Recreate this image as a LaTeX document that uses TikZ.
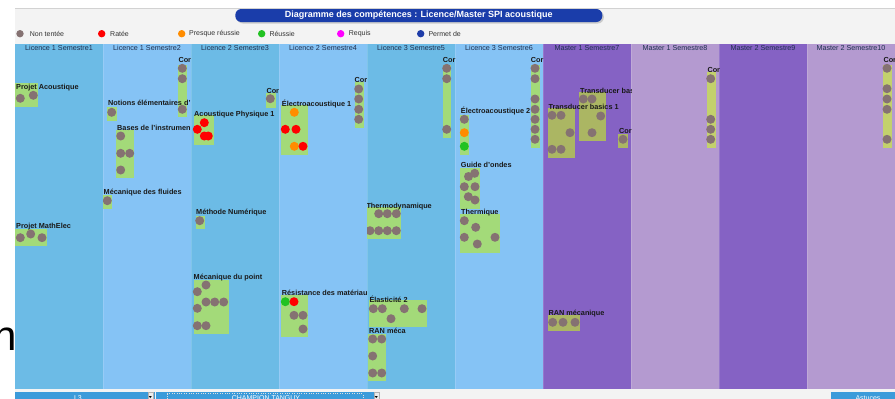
\documentclass[tikz,border=0pt]{standalone}
\usepackage{fontspec}
\setmainfont{Liberation Sans}
\usetikzlibrary{shadows}
\definecolor{lodd}{HTML}{6CBBE6}
\definecolor{leven}{HTML}{85C3F5}
\definecolor{modd}{HTML}{8562C4}
\definecolor{meven}{HTML}{B49AD0}
\definecolor{bgray}{HTML}{F3F3F3}
\definecolor{boxg}{HTML}{A3DA79}
\definecolor{boxgm}{HTML}{ABB663}
\definecolor{boxgl}{HTML}{C3D16C}
\definecolor{dotgray}{HTML}{857272}
\definecolor{dred}{HTML}{FF0000}
\definecolor{dorange}{HTML}{FF8C00}
\definecolor{dgreen}{HTML}{22C222}
\definecolor{dmag}{HTML}{FF00FF}
\definecolor{dblue}{HTML}{1E3CA8}
\definecolor{titleblue}{HTML}{1A3DAA}
\definecolor{hdrtext}{HTML}{1F3050}
\definecolor{barblue}{HTML}{3C9BDA}
\tikzset{
  colbox/.style={fill=#1, draw=none, inner sep=0, anchor=north west, minimum width=88, minimum height=345},
  hdr/.style={font=\fontsize{7.2}{8}\selectfont, text=hdrtext, inner sep=0},
  skill/.style={fill=#1, draw=none, inner sep=0, anchor=north west},
  lbltxt/.style={font=\bfseries\fontsize{7.3}{8}\selectfont, text=black!90, inner sep=0, anchor=base west},
  dot/.style={circle, fill=#1, draw=none, minimum size=9, inner sep=0},
  ldot/.style={circle, fill=#1, draw=none, minimum size=7.4, inner sep=0},
  legtext/.style={font=\fontsize{7}{8}\selectfont, text=black!80, inner sep=0, anchor=west},
  barbox/.style={fill=barblue, draw=none, inner sep=0, anchor=north west, minimum height=10},
  arrowsq/.style={fill=gray!15, draw=gray!60, line width=0.3, inner sep=0, anchor=north west, minimum width=5.5, minimum height=8},
  bartext/.style={font=\fontsize{7}{8}\selectfont, text=white, inner sep=0, anchor=base},
}
\newcommand\skl[6]{\node[skill=#6, minimum width={#4-#2}, minimum height={#5-#3}] (#1) at (#2,#3) {};}
\newcommand\skllabel[4]{\node[lbltxt] (#1) at (#2,#3+2.6) {#4};}
\newcommand\skdot[4]{\node[dot=#2] (#1) at (#3,#4) {};}
\newcommand\semcol[4]{\node[colbox=#3] (#1) at (#2,44) {};
  \node[hdr] (#1-h) at (#2+44,47.7) {#4};}
\newcommand\colclip[1]{\clip (#1,44) rectangle (#1+88,389);}

\begin{document}
\begin{tikzpicture}[x=1pt,y=-1pt]
\useasboundingbox (0,0) rectangle (895,399);
\clip (0,0) rectangle (895,399);
\fill[white] (0,0) rectangle (895,399);
% background strips
\fill[bgray] (15,8.5) rectangle (895,44);
\draw[gray!35, line width=0.8] (15,8.2) -- (895,8.2);
\fill[bgray] (15,389) rectangle (895,399);
% large glyph on the left
\node[font=\fontsize{42}{42}\selectfont, inner sep=0, anchor=base west] (bign) at (-6.8,350) {n};

% title
\node[fill=titleblue, rounded corners=6, minimum width=367, minimum height=13, inner sep=0,
      text=white, font=\bfseries\fontsize{9}{10}\selectfont,
      drop shadow={shadow xshift=1.5pt, shadow yshift=-1.5pt, opacity=0.35}] (title) at (418.8,15.5)
      {Diagramme des compétences : Licence/Master SPI acoustique};

% legend
\node[ldot=dotgray] (lg1) at (20,33.7) {};  \node[legtext] (lg1t) at (29.7,33.7) {Non tentée};
\node[ldot=dred] (lg2) at (101.7,33.7) {};  \node[legtext] (lg2t) at (110,33.7) {Ratée};
\node[ldot=dorange] (lg3) at (181.7,33.7) {}; \node[legtext] (lg3t) at (189,33.7) {Presque réussie};
\node[ldot=dgreen] (lg4) at (261.7,33.7) {}; \node[legtext] (lg4t) at (269.3,33.7) {Réussie};
\node[ldot=dmag] (lg5) at (340.7,33.7) {};  \node[legtext] (lg5t) at (348.7,33.7) {Requis};
\node[ldot=dblue] (lg6) at (420.7,33.7) {}; \node[legtext] (lg6t) at (428.3,33.7) {Permet de};

% columns
\semcol{c1}{15}{lodd}{Licence 1 Semestre1}
\semcol{c2}{103}{leven}{Licence 1 Semestre2}
\semcol{c3}{191}{lodd}{Licence 2 Semestre3}
\semcol{c4}{279}{leven}{Licence 2 Semestre4}
\semcol{c5}{367}{lodd}{Licence 3 Semestre5}
\semcol{c6}{455}{leven}{Licence 3 Semestre6}
\semcol{c7}{543}{modd}{Master 1 Semestre7}
\semcol{c8}{631}{meven}{Master 1 Semestre8}
\semcol{c9}{719}{modd}{Master 2 Semestre9}
\semcol{c10}{807}{meven}{Master 2 Semestre10}
\foreach \xx in {103,191,279,367,455,543,631,719,807}
  \draw[white, opacity=0.15, line width=0.8] (\xx,44) -- (\xx,389);

% ---- column 1
\begin{scope}\colclip{15}
\skl{pa}{15}{83}{38}{107}{boxg}
\skllabel{pa-l}{16}{87.3}{Projet Acoustique}
\skdot{pa-1}{dotgray}{20.3}{98.3} \skdot{pa-2}{dotgray}{33.3}{95.3}
\skl{pm}{15}{228.5}{47}{246}{boxg}
\skllabel{pm-l}{16}{225.7}{Projet MathElec}
\skdot{pm-1}{dotgray}{20.3}{237.7} \skdot{pm-2}{dotgray}{30.7}{234} \skdot{pm-3}{dotgray}{42}{237.7}
\end{scope}

% ---- column 2
\begin{scope}\colclip{103}
\skl{cor2}{178}{65}{187}{117}{boxg}
\skllabel{cor2-l}{178.3}{60}{Cor}
\skdot{cor2-1}{dotgray}{182.3}{68.3} \skdot{cor2-2}{dotgray}{182.3}{78.7} \skdot{cor2-3}{dotgray}{182.3}{109.3}
\skl{ne}{107}{107}{116.5}{121}{boxg}
\skllabel{ne-l}{108}{103.3}{Notions élémentaires d'}
\skdot{ne-1}{dotgray}{111.7}{112.3}
\skl{bi}{116}{130}{134}{178}{boxg}
\skllabel{bi-l}{117}{128.3}{Bases de l'instrumen}
\skdot{bi-1}{dotgray}{120.7}{136} \skdot{bi-2}{dotgray}{120.7}{153.3} \skdot{bi-3}{dotgray}{129.7}{153.3} \skdot{bi-4}{dotgray}{120.7}{170}
\skl{mf}{103}{195}{112}{208.3}{boxg}
\skllabel{mf-l}{103.5}{191.7}{Mécanique des fluides}
\skdot{mf-1}{dotgray}{107.3}{200.7}
\end{scope}

% ---- column 3
\begin{scope}\colclip{191}
\skl{ap}{193.3}{115}{213.3}{144.3}{boxg}
\skllabel{ap-l}{194}{114}{Acoustique Physique 1}
\skdot{ap-1}{dred}{204.3}{122.7} \skdot{ap-2}{dred}{197.3}{129.3} \skdot{ap-3}{dred}{204.3}{136} \skdot{ap-4}{dred}{208.3}{136}
\skl{cor3}{266}{93}{275.3}{107.3}{boxg}
\skllabel{cor3-l}{266.3}{90.7}{Cor}
\skdot{cor3-1}{dotgray}{270.3}{98.7}
\skl{mn}{195.3}{216}{204.3}{229}{boxg}
\skllabel{mn-l}{196}{212.3}{Méthode Numérique}
\skdot{mn-1}{dotgray}{199.7}{220.7}
\skl{mp}{193.3}{279.3}{228.3}{334}{boxg}
\skllabel{mp-l}{193.5}{276.7}{Mécanique du point}
\skdot{mp-1}{dotgray}{206}{285} \skdot{mp-2}{dotgray}{197.3}{291.7}
\skdot{mp-3}{dotgray}{206}{302} \skdot{mp-4}{dotgray}{214.7}{302} \skdot{mp-5}{dotgray}{223.7}{302}
\skdot{mp-6}{dotgray}{197.3}{308.3} \skdot{mp-7}{dotgray}{197.3}{325.7} \skdot{mp-8}{dotgray}{206}{325.7}
\end{scope}

% ---- column 4
\begin{scope}\colclip{279}
\skl{ea1}{281}{105}{307.7}{155}{boxg}
\skllabel{ea1-l}{281.7}{104}{Électroacoustique 1}
\skdot{ea1-1}{dorange}{294.3}{112.3} \skdot{ea1-2}{dred}{285.3}{129.3} \skdot{ea1-3}{dred}{296}{129.3}
\skdot{ea1-4}{dorange}{294.3}{146.3} \skdot{ea1-5}{dred}{303}{146.3}
\skl{cor4}{354.3}{81.7}{363.3}{127.3}{boxg}
\skllabel{cor4-l}{354.5}{80}{Cor}
\skdot{cor4-1}{dotgray}{358.7}{89} \skdot{cor4-2}{dotgray}{358.7}{99} \skdot{cor4-3}{dotgray}{358.7}{109.3} \skdot{cor4-4}{dotgray}{358.7}{119.3}
\skl{rm}{281}{295}{307.3}{336.7}{boxg}
\skllabel{rm-l}{281.7}{293.3}{Résistance des matériau}
\skdot{rm-1}{dgreen}{285.3}{301.7} \skdot{rm-2}{dred}{294}{301.7}
\skdot{rm-3}{dotgray}{294}{315.3} \skdot{rm-4}{dotgray}{303}{315.3} \skdot{rm-5}{dotgray}{303}{329}
\end{scope}

% ---- column 5
\begin{scope}\colclip{367}
\skl{cor5}{442.7}{65}{451}{137.3}{boxg}
\skllabel{cor5-l}{442.7}{60}{Cor}
\skdot{cor5-1}{dotgray}{446.7}{68.3} \skdot{cor5-2}{dotgray}{446.7}{78.7} \skdot{cor5-3}{dotgray}{446.7}{129.3}
\skl{td}{366}{206.7}{401}{239}{boxg}
\skllabel{td-l}{366.3}{205.7}{Thermodynamique}
\skdot{td-1}{dotgray}{378.7}{213.7} \skdot{td-2}{dotgray}{387.3}{213.7} \skdot{td-3}{dotgray}{396.3}{213.7}
\skdot{td-4}{dotgray}{370}{230.7} \skdot{td-5}{dotgray}{378.7}{230.7} \skdot{td-6}{dotgray}{387.3}{230.7} \skdot{td-7}{dotgray}{396.3}{230.7}
\skl{el}{369}{300}{426.7}{326.7}{boxg}
\skllabel{el-l}{369.3}{300.3}{Élasticité 2}
\skdot{el-1}{dotgray}{373.3}{308.7} \skdot{el-2}{dotgray}{382.3}{308.7} \skdot{el-3}{dotgray}{404.3}{308.7}
\skdot{el-4}{dotgray}{422}{308.7} \skdot{el-5}{dotgray}{391}{318.7}
\skl{ran}{367.7}{334}{385.7}{381}{boxg}
\skllabel{ran-l}{369}{330.7}{RAN méca}
\skdot{ran-1}{dotgray}{372.7}{339} \skdot{ran-2}{dotgray}{381.7}{339} \skdot{ran-3}{dotgray}{372.7}{356}
\skdot{ran-4}{dotgray}{372.7}{373} \skdot{ran-5}{dotgray}{381.7}{373}
\end{scope}

% ---- column 6
\begin{scope}\colclip{455}
\skl{ea2}{460}{115}{469}{154.3}{boxg}
\skllabel{ea2-l}{460.7}{110.7}{Électroacoustique 2}
\skdot{ea2-1}{dotgray}{464.3}{119.3} \skdot{ea2-2}{dorange}{464.3}{132.7} \skdot{ea2-3}{dgreen}{464.3}{146.3}
\skl{cor6}{530.7}{65}{540}{147.7}{boxg}
\skllabel{cor6-l}{530.7}{60}{Cor}
\skdot{cor6-1}{dotgray}{535}{68.3} \skdot{cor6-2}{dotgray}{535}{78.7} \skdot{cor6-3}{dotgray}{535}{99}
\skdot{cor6-4}{dotgray}{535}{109.3} \skdot{cor6-5}{dotgray}{535}{119.3} \skdot{cor6-6}{dotgray}{535}{129.3} \skdot{cor6-7}{dotgray}{535}{139.3}
\skl{go}{460}{168}{479.3}{208.3}{boxg}
\skllabel{go-l}{460.7}{165.3}{Guide d'ondes}
\skdot{go-1}{dotgray}{468.5}{176.5} \skdot{go-2}{dotgray}{474.7}{173.3} \skdot{go-3}{dotgray}{464.3}{186.7}
\skdot{go-4}{dotgray}{475}{186.7} \skdot{go-5}{dotgray}{468.3}{196.7} \skdot{go-6}{dotgray}{475}{200}
\skl{th}{460}{213.3}{499.7}{252.7}{boxg}
\skllabel{th-l}{461}{212.3}{Thermique}
\skdot{th-1}{dotgray}{464.3}{220.7} \skdot{th-2}{dotgray}{475.7}{227.3} \skdot{th-3}{dotgray}{464.3}{237.3}
\skdot{th-4}{dotgray}{477.3}{244} \skdot{th-5}{dotgray}{495}{237.3}
\end{scope}

% ---- column 7
\begin{scope}\colclip{543}
\skl{tb2}{578.7}{91.7}{605.3}{140.7}{boxgm}
\skllabel{tb2-l}{580}{90.7}{Transducer bas}
\skdot{tb2-1}{dotgray}{583.3}{99} \skdot{tb2-2}{dotgray}{592}{99} \skdot{tb2-3}{dotgray}{600.7}{116} \skdot{tb2-4}{dotgray}{592}{132.7}
\skl{tb1}{548}{108}{574.7}{157.7}{boxgm}
\skllabel{tb1-l}{548.3}{107.3}{Transducer basics 1}
\skdot{tb1-1}{dotgray}{552}{115.3} \skdot{tb1-2}{dotgray}{561}{115.3} \skdot{tb1-3}{dotgray}{570}{132.7}
\skdot{tb1-4}{dotgray}{552}{149.3} \skdot{tb1-5}{dotgray}{561}{149.3}
\skl{cor7}{618}{133.3}{627.7}{147.7}{boxgm}
\skllabel{cor7-l}{619}{131.3}{Cor}
\skdot{cor7-1}{dotgray}{623}{139.3}
\skl{rmc}{547.7}{314.3}{580}{330.7}{boxgm}
\skllabel{rmc-l}{548.3}{313.3}{RAN mécanique}
\skdot{rmc-1}{dotgray}{552.7}{322.3} \skdot{rmc-2}{dotgray}{563}{322.3} \skdot{rmc-3}{dotgray}{575}{322.3}
\end{scope}

% ---- column 8
\begin{scope}\colclip{631}
\skl{cor8}{706.7}{71.7}{715.7}{147.7}{boxgl}
\skllabel{cor8-l}{707.3}{70}{Cor}
\skdot{cor8-1}{dotgray}{710.7}{78.7} \skdot{cor8-2}{dotgray}{710.7}{119.3} \skdot{cor8-3}{dotgray}{710.7}{129.3} \skdot{cor8-4}{dotgray}{710.7}{139.3}
\end{scope}

% ---- column 10
\begin{scope}\colclip{807}
\skl{cor10}{883}{65}{891.7}{147.7}{boxgl}
\skllabel{cor10-l}{883.3}{60}{Cor}
\skdot{cor10-1}{dotgray}{887}{68.3} \skdot{cor10-2}{dotgray}{887}{88.7} \skdot{cor10-3}{dotgray}{887}{99}
\skdot{cor10-4}{dotgray}{887}{109.3} \skdot{cor10-5}{dotgray}{887}{139.3}
\end{scope}

% bottom bar
\node[barbox, minimum width=139.5] (selL3) at (15,391.5) {};
\node[arrowsq] (selL3-a) at (147.5,392) {};
\fill[black] (148.7,396) -- (151.8,396) -- (150.25,398) -- cycle;
\node[bartext] (selL3-t) at (78,400.3) {L3};
\node[barbox, minimum width=224] (selCT) at (156,391.5) {};
\draw[white!75!gray, dotted, line width=0.4] (166.7,393.5) rectangle (362.7,403);
\node[arrowsq] (selCT-a) at (373.5,392) {};
\fill[black] (374.7,396) -- (377.8,396) -- (376.25,398) -- cycle;
\node[bartext] (selCT-t) at (266,400.3) {CHAMPION TANGUY};
\node[barbox, minimum width=64] (astuces) at (831,391.7) {};
\node[bartext] (astuces-t) at (868,400.5) {Astuces};
\end{tikzpicture}
\end{document}
